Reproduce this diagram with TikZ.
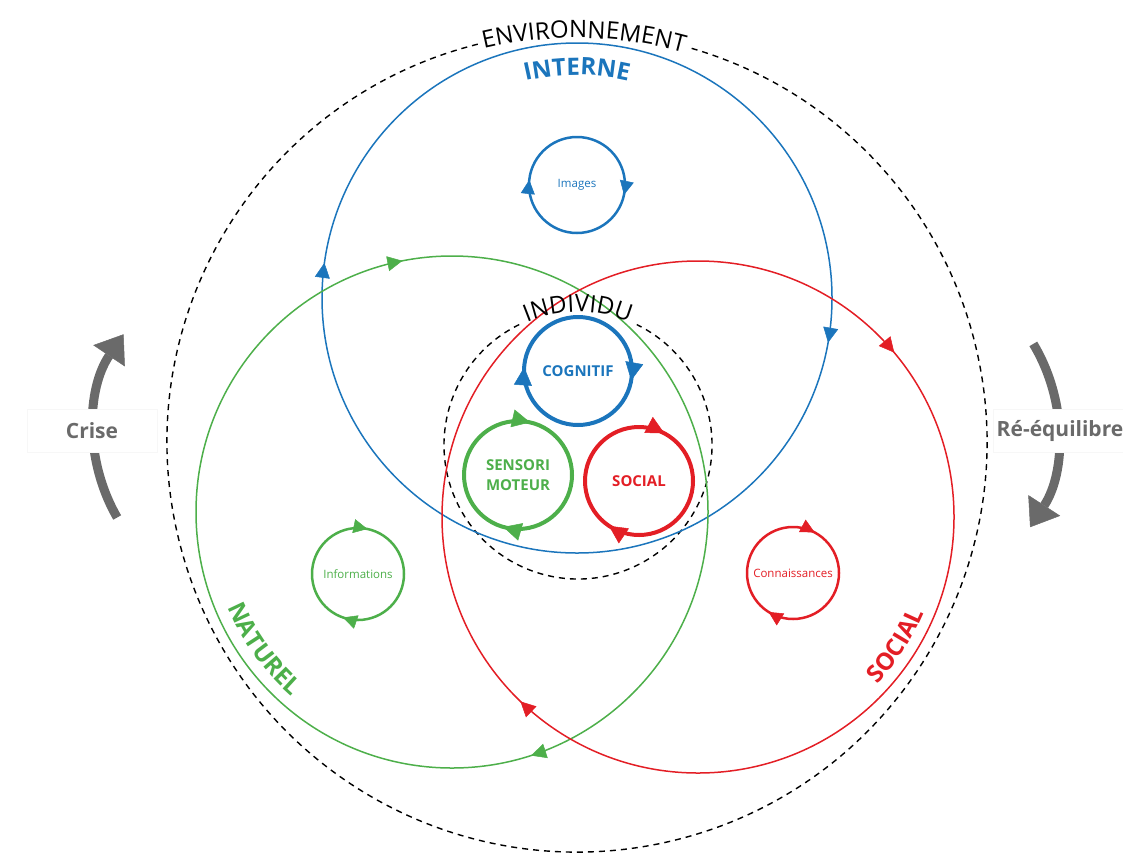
\documentclass[tikz,border=0pt]{standalone}
\usepackage{fontspec}
\setmainfont{Open Sans}
\usetikzlibrary{arrows.meta, decorations.markings, decorations.text}
\definecolor{bleu}{HTML}{1B75BC}
\definecolor{vert}{HTML}{4DAF4A}
\definecolor{rouge}{HTML}{E31E25}
\definecolor{gris}{HTML}{6A6A6A}
\tikzset{
  sphere/.style={line width=1.5pt},
  milieu/.style={dash pattern=on 6pt off 5pt, line width=1.4pt, color=black},
  boucle/.style={line width=4pt},
  petiteboucle/.style={line width=2.5pt},
  fleches/.style n args={3}{postaction={decorate}, decoration={markings,
      mark=at position #1 with {\arrowreversed{Triangle[length=#3, width=#3, line width=0.5pt]}},
      mark=at position #2 with {\arrowreversed{Triangle[length=#3, width=#3, line width=0.5pt]}}}},
  titre/.style={font=\fontsize{15}{20}\selectfont\bfseries, align=center},
  legende/.style={font=\fontsize{11.5}{14}\selectfont},
  phase/.style={font=\fontsize{21}{24}\selectfont\bfseries, text=gris, fill=white,
    draw=black!3, minimum width=130pt, minimum height=43pt},
  bascule/.style={line width=9pt, color=gris, -{Triangle[length=26pt, width=38pt, line width=0.5pt]}}
}
\begin{document}
\begin{tikzpicture}[x=1pt, y=1pt]
  \useasboundingbox (0,0) rectangle (1123,-854);
  \coordinate (env) at (577,-442);
  \coordinate (indiv) at (578,-445);
  \coordinate (interne) at (577,-298);
  \coordinate (naturel) at (452,-512);
  \coordinate (social) at (698,-517);

  % les deux cercles pointilles s'interrompent sous leur titre
  \draw[milieu] (env) ++(104:410) arc[start angle=104, end angle=434, radius=410];
  \draw[milieu] (indiv) ++(116:134) arc[start angle=116, end angle=424, radius=134];

  \draw[sphere, color=bleu, fleches={0.478}{0.972}{15pt}] (interne) circle[radius=255];
  \draw[sphere, color=vert, fleches={0.281}{0.8}{15pt}] (naturel) circle[radius=256];
  \draw[sphere, color=rouge, fleches={0.111}{0.628}{15pt}] (social) circle[radius=256];

  \path[decorate, decoration={text along path, text align=center,
      text={|\fontsize{24}{24}\selectfont|ENVIRONNEMENT}}]
    (env) ++(109:404) arc[start angle=109, end angle=69, radius=404];
  \path[decorate, decoration={text along path, text align=center,
      text={|\fontsize{24}{24}\selectfont\bfseries\color{bleu}|INTERNE}}]
    (interne) ++(113:223) arc[start angle=113, end angle=67, radius=223];
  \path[decorate, decoration={text along path, text align=center,
      text={|\fontsize{24}{24}\selectfont\bfseries\color{vert}|NATUREL}}]
    (naturel) ++(198:244) arc[start angle=198, end angle=234, radius=244];
  \path[decorate, decoration={text along path, text align=center,
      text={|\fontsize{24}{24}\selectfont\bfseries\color{rouge}|SOCIAL}}]
    (social) ++(-52:245) arc[start angle=-52, end angle=-14, radius=245];
  \path[decorate, decoration={text along path, text align=center,
      text={|\fontsize{24}{24}\selectfont|INDIVIDU}}]
    (indiv) ++(135:133) arc[start angle=135, end angle=45, radius=133];

  \node[legende, text=bleu] (images) at (577,-185) {Images};
  \draw[petiteboucle, color=bleu, fleches={0.483}{0.967}{14pt}] (images.center) circle[radius=48];
  \node[legende, text=vert] (informations) at (358,-574) {Informations};
  \draw[petiteboucle, color=vert, fleches={0.217}{0.697}{14pt}] (informations.center) circle[radius=46];
  \node[legende, text=rouge] (connaissances) at (793,-573) {Connaissances};
  \draw[petiteboucle, color=rouge, fleches={0.172}{0.661}{14pt}] (connaissances.center) circle[radius=46];

  \node[titre, text=bleu] (cognitif) at (578,-371) {COGNITIF};
  \draw[boucle, color=bleu, fleches={0.489}{0.972}{18pt}] (cognitif.center) circle[radius=54];
  \node[titre, text=vert] (sensori) at (518,-475) {SENSORI\\MOTEUR};
  \draw[boucle, color=vert, fleches={0.214}{0.706}{18pt}] (sensori.center) circle[radius=54];
  \node[titre, text=rouge] (socialind) at (639,-481) {SOCIAL};
  \draw[boucle, color=rouge, fleches={0.172}{0.656}{18pt}] (socialind.center) circle[radius=54];

  \coordinate (pivotg) at (267,-431);
  \draw[bascule] (pivotg) ++(210:173) arc[start angle=210, end angle=146, radius=173];
  \node[phase] (crise) at (92,-431) {Crise};
  \coordinate (pivotd) at (885,-433);
  \draw[bascule] (pivotd) ++(31:173) arc[start angle=31, end angle=-33, radius=173];
  \node[phase] (reequilibre) at (1060,-431) {Ré-équilibre};
\end{tikzpicture}
\end{document}
